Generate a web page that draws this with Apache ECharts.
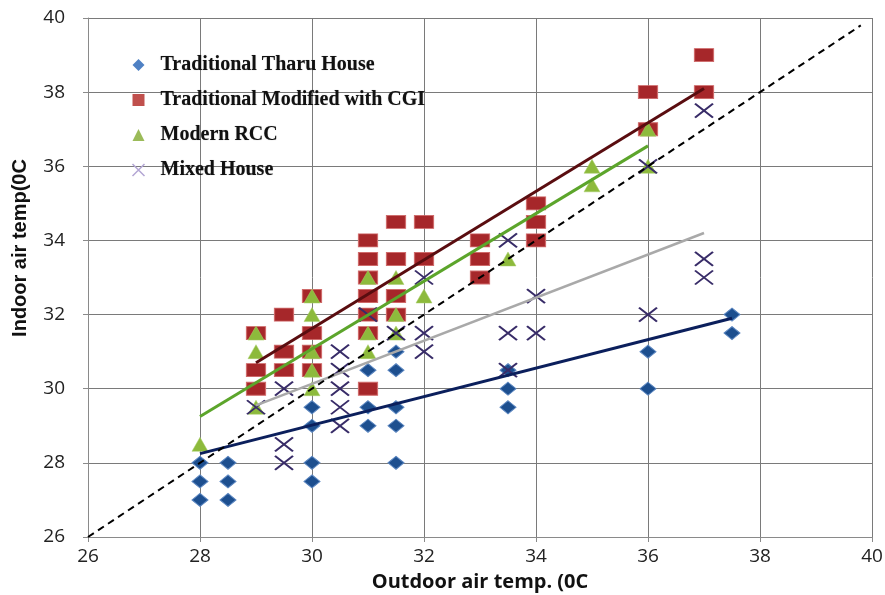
<!DOCTYPE html>
<html>
<head>
<meta charset="utf-8">
<script src="https://cdn.jsdelivr.net/npm/echarts@6/dist/echarts.min.js"></script>
<style>html,body{margin:0;padding:0;background:#fff}#c{width:885px;height:595px}</style>
</head>
<body>
<div id="c"></div>
<script>
const xTicks = [26, 28, 30, 32, 34, 36, 38, 40];
const yTicks = [26, 28, 30, 32, 34, 36, 38, 40];
const seriesNames = ['Traditional Tharu House', 'Traditional Modified with CGI', 'Modern RCC', 'Mixed House'];

const tharu = [[28,28],[28,27.5],[28,27],[28.5,28],[28.5,27.5],[28.5,27],
  [30,29.5],[30,29],[30,28],[30,27.5],
  [31,30.5],[31,29.5],[31,29],
  [31.5,31],[31.5,30.5],[31.5,29.5],[31.5,29],[31.5,28],
  [33.5,30.5],[33.5,30],[33.5,29.5],
  [36,31],[36,30],
  [37.5,32],[37.5,31.5]];

const cgi = [[29,31.5],[29,30.5],[29,30],
  [29.5,32],[29.5,31],[29.5,30.5],
  [30,32.5],[30,31.5],[30,31],[30,30.5],
  [31,34],[31,33.5],[31,33],[31,32.5],[31,32],[31,31.5],[31,30],
  [31.5,34.5],[31.5,33.5],[31.5,32.5],[31.5,32],
  [32,34.5],[32,33.5],
  [33,34],[33,33.5],[33,33],
  [34,35],[34,34.5],[34,34],
  [36,38],[36,37],
  [37,39],[37,38]];

const rcc = [[28,28.5],
  [29,31.5],[29,31],[29,29.5],
  [30,32.5],[30,32],[30,31],[30,30.5],[30,30],
  [31,33],[31,31.5],[31,31],
  [31.5,33],[31.5,32],[31.5,31.5],
  [32,32.5],
  [33.5,33.5],
  [35,36],[35,35.5],
  [36,37],[36,36]];

const mixed = [[29,29.5],
  [29.5,30],[29.5,28.5],[29.5,28],
  [30.5,31],[30.5,30.5],[30.5,30],[30.5,29.5],[30.5,29],
  [31,32],[31.5,31.5],
  [32,33],[32,31.5],[32,31],
  [33.5,34],[33.5,31.5],[33.5,30.5],
  [34,32.5],[34,31.5],
  [36,36],[36,32],
  [37,37.5],[37,33.5],[37,33]];

// trend line end points
const tharuTrend = [[28,28.25],[37.5,31.9]];
const cgiTrend = [[29,30.7],[37,38.1]];
const rccTrend = [[28,29.25],[36,36.55]];
const mixedTrend = [[29,29.55],[37,34.2]];
const equalLine = [[26,26],[39.8,39.8]];

const xPath = 'path://M0,0L10,10M10,0L0,10';

const chart = echarts.init(document.getElementById('c'), null, {renderer: 'canvas'});

function trend(data, color, width) {
  return {
    type: 'line', data: data, symbol: 'none', silent: true, z: 5,
    lineStyle: {color: color, width: width}, animation: false
  };
}

const axisCommon = {
  type: 'value', min: 26, max: 40, interval: 2,
  axisLine: {show: true, lineStyle: {color: '#8a8a8a', width: 1}},
  axisTick: {show: true, length: 5, lineStyle: {color: '#8a8a8a'}},
  splitLine: {show: true, lineStyle: {color: '#7a7a7a', width: 1}},
};

chart.setOption({
  animation: false,
  backgroundColor: '#fff',
  grid: {left: 88, right: 13, top: 18, bottom: 58, containLabel: false, outerBoundsMode: 'none'},
  xAxis: Object.assign({}, axisCommon, {
    name: 'Outdoor air temp. (0C',
    nameLocation: 'middle', nameGap: 35,
    nameTextStyle: {fontFamily: 'Open Sans', fontWeight: 'bold', fontSize: 20, color: '#111'},
    axisLabel: {margin: 10, fontFamily: 'Open Sans', fontSize: 19, color: '#222',
      formatter: v => xTicks.includes(v) ? String(v) : ''}
  }),
  yAxis: Object.assign({}, axisCommon, {
    axisLabel: {margin: 23, fontFamily: 'Open Sans', fontSize: 19, color: '#222',
      formatter: v => yTicks.includes(v) ? String(v) : ''}
  }),
  legend: {
    orient: 'vertical', left: 130, top: 55, padding: 0,
    itemWidth: 12, itemHeight: 12, itemGap: 15,
    textStyle: {fontFamily: 'Liberation Serif', fontWeight: 'bold', fontSize: 20, color: '#111',
      padding: [0, 0, 0, 11], textShadowColor: 'rgba(0,0,0,0.35)', textShadowBlur: 1},
    data: [
      {name: seriesNames[0], icon: 'diamond', itemStyle: {color: '#4f81c4', borderWidth: 0}},
      {name: seriesNames[1], icon: 'rect', itemStyle: {color: '#c0504d', borderWidth: 0}},
      {name: seriesNames[2], icon: 'triangle', itemStyle: {color: '#9bbb59', borderWidth: 0}},
      {name: seriesNames[3], icon: xPath, itemStyle: {color: 'none', borderColor: '#b3a6d4', borderWidth: 1.5}}
    ]
  },
  graphic: [{
    type: 'text', rotation: Math.PI / 2,
    x: 20, y: 248,
    style: {text: 'Indoor air temp(0C', fontFamily: 'Liberation Sans Narrow, Liberation Sans', fontWeight: 'bold',
      fontSize: 20, fill: '#111', align: 'center', verticalAlign: 'middle'}
  }],
  series: [
    {name: seriesNames[0], type: 'scatter', data: tharu, symbol: 'diamond', symbolSize: [16, 13], z: 2,
      itemStyle: {color: '#1d4f8f', borderColor: '#5b86c0', borderWidth: 1, opacity: 1}},
    {name: seriesNames[1], type: 'scatter', data: cgi, symbol: 'rect', symbolSize: [19, 13], z: 2,
      itemStyle: {color: '#a6272a', borderColor: '#cf6a6a', borderWidth: 1, opacity: 1}},
    {name: seriesNames[2], type: 'scatter', data: rcc, symbol: 'triangle', symbolSize: [16, 14], z: 3,
      itemStyle: {color: '#8dba3c', borderColor: '#a9cf6a', borderWidth: 0.5, opacity: 1}},
    {name: seriesNames[3], type: 'scatter', data: mixed, symbol: xPath, symbolSize: [18, 14], z: 4,
      itemStyle: {color: 'none', borderColor: '#382c68', borderWidth: 2, opacity: 1}},
    trend(cgiTrend, '#5a0d10', 3),
    trend(rccTrend, '#5ca52b', 3),
    trend(mixedTrend, '#a9a9a9', 2.5),
    trend(tharuTrend, '#0b1f5c', 3),
    {type: 'line', data: equalLine, symbol: 'none', silent: true, z: 5,
      lineStyle: {color: '#000', width: 2, type: [7, 5]}}
  ]
});
</script>
</body>
</html>
